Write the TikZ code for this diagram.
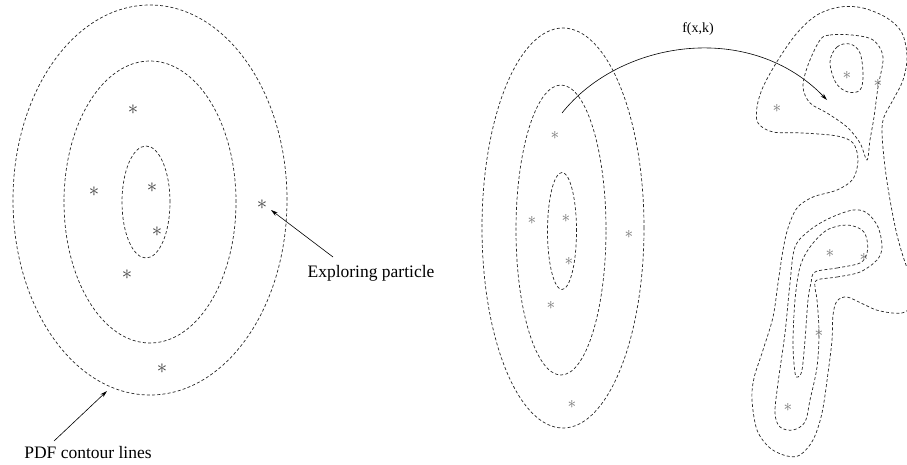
\documentclass[tikz,border=0pt]{standalone}
\usepackage{fontspec}
\setmainfont{Liberation Serif}
\usetikzlibrary{arrows.meta}
\begin{document}
\begin{tikzpicture}[x=1pt,y=-1pt,
  contour/.style={draw=black!85, line width=0.7pt, dash pattern=on 3pt off 2.2pt},
  lstar/.style={inner sep=0pt, text=black!75, font=\fontsize{20}{20}\selectfont},
  rstar/.style={inner sep=0pt, text=black!55, font=\fontsize{16}{16}\selectfont},
  lbl/.style={inner sep=0pt, font=\fontsize{17.5}{17.5}\selectfont},
  flbl/.style={inner sep=0pt, font=\fontsize{14}{14}\selectfont},
  pointer/.style={-{Stealth[length=7pt,width=4pt]}, line width=0.6pt}]
\useasboundingbox (0,0) rectangle (907,464);

% ---- left contours ----
\draw[contour] (150,200) ellipse [x radius=137pt, y radius=195pt];
\draw[contour] (150,202) ellipse [x radius=86pt, y radius=141pt];
\draw[contour] (146,202) ellipse [x radius=24pt, y radius=56pt];

% ---- left particles ----
\node[lstar] (l1) at (133,110) {$\ast$};
\node[lstar] (l2) at (94,192) {$\ast$};
\node[lstar] (l3) at (152,188) {$\ast$};
\node[lstar] (l4) at (157,232) {$\ast$};
\node[lstar] (l5) at (127,275) {$\ast$};
\node[lstar] (l6) at (262,205) {$\ast$};
\node[lstar] (l7) at (162,369) {$\ast$};

% ---- left labels ----
\node[lbl] (expl) at (371,273) {Exploring particle};
\node[lbl] (pdf) at (88,453) {PDF contour lines};
\coordinate (explS) at (333,257);
\coordinate (explE) at (271,210);
\coordinate (pdfS) at (54,441);
\coordinate (pdfE) at (107,391);
\draw[pointer] (explS) -- (explE);
\draw[pointer] (pdfS) -- (pdfE);

% ---- right ellipses ----
\draw[contour] (563,228) ellipse [x radius=81pt, y radius=200pt];
\draw[contour] (561,230) ellipse [x radius=45pt, y radius=145pt];
\draw[contour] (562,231) ellipse [x radius=14.5pt, y radius=58.5pt];

\node[rstar] (r1) at (555,135) {$\ast$};
\node[rstar] (r2) at (532,220) {$\ast$};
\node[rstar] (r3) at (566,218) {$\ast$};
\node[rstar] (r4) at (569,261) {$\ast$};
\node[rstar] (r5) at (629,234) {$\ast$};
\node[rstar] (r6) at (551,305) {$\ast$};
\node[rstar] (r7) at (572,404) {$\ast$};

% ---- right blobs ----
\begin{scope}
\clip (0,0) rectangle (907,464);
\draw[contour] plot[smooth cycle, tension=0.55] coordinates {
 (840,7) (863,8) (887,18) (902,33) (907,57) (903,80) (893,100) (884,117)
 (882,133) (885,167) (890,200) (897,235) (906,265) (918,292) (905,312)
 (880,311) (863,304) (847,297) (837,301) (833,315) (832,340) (828,373)
 (822,413) (813,440) (800,455) (787,456) (770,448) (757,430) (752,400)
 (754,378) (763,350) (773,317) (778,283) (783,250) (788,228) (797,208)
 (813,197) (837,190) (853,179) (858,160) (853,143) (837,136) (803,133)
 (773,132) (758,123) (757,107) (763,87) (778,60) (797,33) (817,15)};
\end{scope}
\draw[contour] plot[smooth cycle, tension=0.55] coordinates {
 (820,40) (830,35) (852,35) (873,40) (883,57) (878,87) (874,117) (870,140)
 (867,160) (860,143) (847,127) (827,113) (810,103) (803,87) (808,65)};
\draw[contour] plot[smooth cycle, tension=0.6] coordinates {
 (830,62) (837,47) (850,44) (860,53) (863,75) (860,90) (848,92) (836,83)};
\draw[contour] plot[smooth cycle, tension=0.55] coordinates {
 (817,280) (837,277) (860,272) (877,260) (882,247) (878,227) (867,213)
 (853,210) (830,218) (810,230) (795,247) (790,283) (785,333) (778,383)
 (775,413) (780,427) (793,430) (805,422) (810,400) (817,367) (819,333)
 (817,300) (815,288)};
\draw[contour] plot[smooth cycle, tension=0.55] coordinates {
 (815,272) (837,268) (860,263) (867,253) (867,240) (862,230) (847,225)
 (827,230) (810,247) (800,267) (795,300) (793,343) (795,373) (798,377)
 (802,370) (805,340) (808,300) (811,283)};

\node[rstar] (b1) at (847,75) {$\ast$};
\node[rstar] (b2) at (878,83) {$\ast$};
\node[rstar] (b3) at (777,108) {$\ast$};
\node[rstar] (b4) at (830,253) {$\ast$};
\node[rstar] (b5) at (864,257) {$\ast$};
\node[rstar] (b6) at (819,333) {$\ast$};
\node[rstar] (b7) at (788,407) {$\ast$};

% ---- mapping arrow ----
\coordinate (fs) at (562,113);
\coordinate (fe) at (827,100);
\draw[pointer] (fs) .. controls (620,40) and (750,20) .. (fe);
\node[flbl] (flab) at (698,29) {f(x,k)};
\end{tikzpicture}
\end{document}
